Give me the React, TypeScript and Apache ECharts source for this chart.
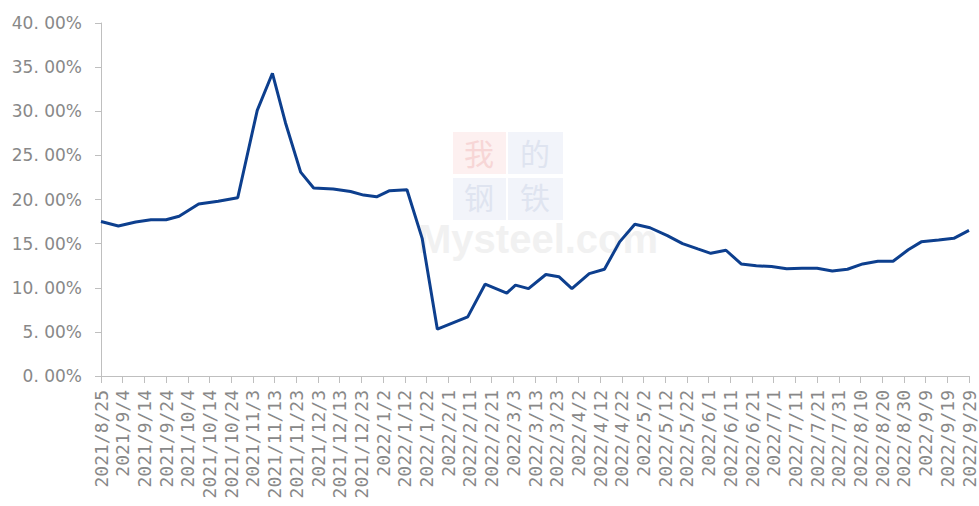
import React, { useEffect, useRef } from "react";
import * as echarts from "echarts";

// Day offsets from 2021/8/25 and the values (%)
const xDays = [
  0, 8, 16, 23, 30, 36, 45, 54, 63, 72, 79, 85, 92, 98, 107, 115, 121, 127, 133, 141,
  148, 155, 169, 177, 187, 191, 197, 205, 211, 217, 225, 232, 239, 246, 253, 261, 268,
  275, 281, 288, 295, 302, 309, 316, 323, 330, 337, 344, 351, 358, 365, 372, 378, 386,
  393, 400,
];
const values = [
  17.5, 17.0, 17.45, 17.7, 17.7, 18.1, 19.5, 19.8, 20.2, 30.1, 34.3, 28.7, 23.1, 21.3,
  21.2, 20.9, 20.5, 20.3, 21.0, 21.1, 15.6, 5.3, 6.7, 10.4, 9.4, 10.3, 9.9, 11.5, 11.25,
  9.9, 11.6, 12.1, 15.2, 17.2, 16.8, 15.9, 15.0, 14.4, 13.9, 14.25, 12.7, 12.5, 12.4,
  12.15, 12.2, 12.2, 11.9, 12.1, 12.7, 13.0, 13.0, 14.3, 15.2, 15.4, 15.6, 16.5,
];
const xTickLabels = [
  "2021/8/25", "2021/9/4", "2021/9/14", "2021/9/24", "2021/10/4", "2021/10/14",
  "2021/10/24", "2021/11/3", "2021/11/13", "2021/11/23", "2021/12/3", "2021/12/13",
  "2021/12/23", "2022/1/2", "2022/1/12", "2022/1/22", "2022/2/1", "2022/2/11",
  "2022/2/21", "2022/3/3", "2022/3/13", "2022/3/23", "2022/4/2", "2022/4/12",
  "2022/4/22", "2022/5/2", "2022/5/12", "2022/5/22", "2022/6/1", "2022/6/11",
  "2022/6/21", "2022/7/1", "2022/7/11", "2022/7/21", "2022/7/31", "2022/8/10",
  "2022/8/20", "2022/8/30", "2022/9/9", "2022/9/19", "2022/9/29",
];
const yMin = 0;
const yMax = 40;
const yStep = 5;

export default function App() {
  const ref = useRef<HTMLDivElement>(null);
  useEffect(() => {
    if (!ref.current) return;
    const chart = echarts.init(ref.current, null, { renderer: "svg" });
    const labelColor = "#888888";
    const axisColor = "#bfbfbf";
    const cjkFont = "30px 'Noto Sans CJK SC'";
    chart.setOption({
      animation: false,
      backgroundColor: "#ffffff",
      grid: { left: 101, right: 10, top: 23, bottom: 130, containLabel: false },
      graphic: [
        { type: "rect", shape: { x: 453, y: 132, width: 53, height: 42 }, style: { fill: "#fdf0f0" }, z: 0 },
        { type: "rect", shape: { x: 508, y: 132, width: 55, height: 42 }, style: { fill: "#f2f4fa" }, z: 0 },
        { type: "rect", shape: { x: 453, y: 178, width: 53, height: 42 }, style: { fill: "#f2f4fa" }, z: 0 },
        { type: "rect", shape: { x: 508, y: 178, width: 55, height: 42 }, style: { fill: "#f2f4fa" }, z: 0 },
        { type: "text", x: 479, y: 152, style: { text: "我", fill: "#f7d6d6", font: cjkFont, lineHeight: 30, align: "center", verticalAlign: "middle" }, z: 0 },
        { type: "text", x: 535, y: 152, style: { text: "的", fill: "#dfe4f0", font: cjkFont, lineHeight: 30, align: "center", verticalAlign: "middle" }, z: 0 },
        { type: "text", x: 479, y: 196, style: { text: "钢", fill: "#dfe4f0", font: cjkFont, lineHeight: 30, align: "center", verticalAlign: "middle" }, z: 0 },
        { type: "text", x: 535, y: 196, style: { text: "铁", fill: "#dfe4f0", font: cjkFont, lineHeight: 30, align: "center", verticalAlign: "middle" }, z: 0 },
        { type: "text", x: 418, y: 219, style: { text: "Mysteel.com", fill: "#f1f1f1", font: "bold 40px 'Liberation Sans'", lineHeight: 40, align: "left", verticalAlign: "top" }, z: 0 },
      ],
      xAxis: {
        type: "value",
        min: 0,
        max: 400,
        interval: 10,
        splitLine: { show: false },
        axisLine: { show: true, lineStyle: { color: axisColor, width: 1 } },
        axisTick: { show: true, length: 7, lineStyle: { color: axisColor } },
        axisLabel: {
          rotate: 90,
          margin: 14,
          color: labelColor,
          fontFamily: "DejaVu Sans Mono",
          fontSize: 18,
          formatter: (v: number) => xTickLabels[Math.round(v / 10)] ?? "",
        },
      },
      yAxis: {
        type: "value",
        min: yMin,
        max: yMax,
        interval: yStep,
        splitLine: { show: false },
        axisLine: { show: true, lineStyle: { color: axisColor, width: 1 } },
        axisTick: { show: true, length: 6, lineStyle: { color: axisColor } },
        axisLabel: {
          margin: 19,
          color: labelColor,
          fontFamily: "DejaVu Sans",
          fontSize: 17,
          formatter: (v: number) => v.toFixed(2).replace(".", ". ") + "%",
        },
      },
      series: [
        {
          type: "line",
          data: xDays.map((d, i) => [d, values[i]]),
          showSymbol: false,
          symbol: "none",
          lineStyle: { color: "#0d3f8e", width: 3 },
          z: 5,
        },
      ],
    });
    return () => chart.dispose();
  }, []);
  return (
    <div
      ref={ref}
      style={{ position: "fixed", left: 0, top: 0, width: 979, height: 506, background: "#fff" }}
    />
  );
}
